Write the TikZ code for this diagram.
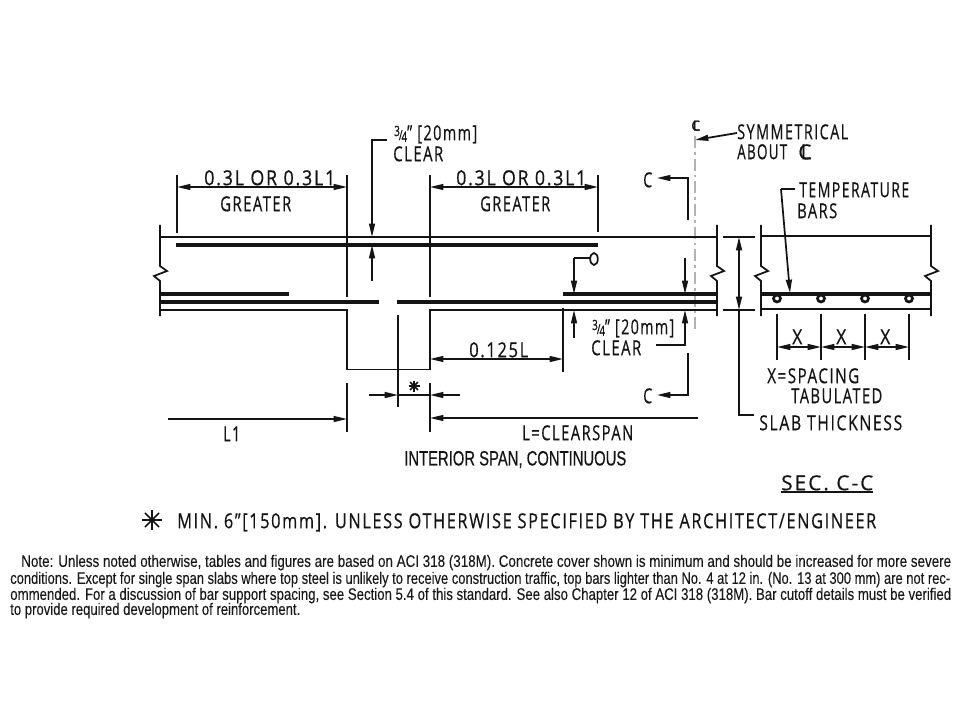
\documentclass[tikz,border=0pt]{standalone}
\usepackage{graphicx}
\usepackage{fontspec}
\usetikzlibrary{arrows.meta,calc}
\setmainfont{Liberation Sans}
\newfontfamily\cad[LetterSpace=10,FakeBold=0.6]{Open Sans}
\newfontfamily\ttl[FakeBold=0.4]{Liberation Sans}
\newfontfamily\nte[FakeBold=0.12]{Liberation Sans}
\newlength\pxu \pxu=0.75pt
\definecolor{ink}{HTML}{141414}
\tikzset{
  ln/.style={draw=ink,line width=1.3pt},
  bar/.style={draw=ink,line width=2.5pt},
  ldr/.style={ln,-{Triangle[length=10pt,width=4.4pt]}},
  dim/.style={ln,{Triangle[length=10pt,width=4.4pt]}-{Triangle[length=10pt,width=4.4pt]}},
  cadtxt/.style={anchor=base west,inner sep=0pt,yshift=-5.4pt,text=ink,font=\cad\fontsize{15.5}{17}\selectfont},
  headtxt/.style={anchor=base west,inner sep=0pt,yshift=-5.6pt,text=ink,font=\ttl\fontsize{15.5}{17}\selectfont},
  notetxt/.style={anchor=base west,inner sep=0pt,yshift=-4.4pt,text=black!90,font=\nte\fontsize{12.5}{14}\selectfont},
  cline/.style={draw=black!30,line width=1pt,dash pattern=on 9pt off 3pt on 2pt off 3pt},
}
\newcommand{\lab}[6][cadtxt]{\node[#1] (#2) at (#3,#4) {\resizebox{#5\pxu}{\height}{#6}};}
\newcommand{\threefour}{{\fontsize{10.5}{11}\selectfont\raisebox{3.2pt}{3}\kern-1pt/\kern-1pt\raisebox{-1.2pt}{4}}}
\newcommand{\brk}[1]{\draw[ln] (#1,225) -- (#1,266) -- ++(7,5) -- ++(-13,5) -- ++(6,5) -- (#1,316);}
\newcommand{\starmark}[3]{\foreach \a in {0,45,90,135}{\draw[draw=ink,line width=1.3pt] ($(#1,#2)+(\a:#3 and -#3)$) -- ($(#1,#2)+(\a+180:#3 and -#3)$);}}
\begin{document}
\begin{tikzpicture}[x=0.75pt,y=-0.75pt]
\fill[white] (0,0) rectangle (960,720);
\useasboundingbox (0,0) rectangle (960,720);
% centre line
\draw[cline] (695,136) -- (695,332);
% slab and column outline
\brk{160}
\brk{717}
\draw[ln] (160,237) -- (717,237);
\draw[ln] (160,310) -- (347,310) -- (347,369.5) -- (430,369.5) -- (430,310) -- (717,310);
% bars
\draw[bar] (176,245) -- (598,245);
\draw[bar] (160,294) -- (289,294);
\draw[bar] (160,302) -- (379,302);
\draw[bar] (397,302) -- (717,302);
\draw[bar] (563,294) -- (717,294);
% extension lines
\draw[ln] (177,175) -- (177,233);
\draw[ln] (347,175) -- (347,297);
\draw[ln] (430,175) -- (430,297);
\draw[ln] (598,175) -- (598,232);
\draw[ln] (398,315) -- (398,407);
\draw[ln] (563,308) -- (563,372);
\draw[ln] (347,383) -- (347,432);
\draw[ln] (430,383) -- (430,432);
% dimensions
\draw[dim] (177,187) -- (347,187);
\draw[dim] (430,187) -- (598,187);
\draw[dim] (430,359) -- (563,359);
\draw[ldr] (369,395) -- (398,395);
\draw[ldr] (460,395) -- (430,395);
\draw[ln] (398,395) -- (430,395);
\draw[ldr] (168,419) -- (347,419);
\draw[ldr] (698,418) -- (430,418);
% cover leaders
\draw[ldr] (387,140) -- (372,140) -- (372,237);
\draw[ldr] (372,281) -- (372,245);
\draw[ln] (590,258) -- (574,258);
\draw[ldr] (574,258) -- (574,294);
\draw[ldr] (574,338) -- (574,310);
\draw[ldr] (685,258) -- (685,294);
\draw[ldr] (656,345) -- (685,345) -- (685,310);
\draw[ln] (594,259) ellipse (3.8 and 6);
% section marks
\draw[ldr] (688,220) -- (688,178) -- (657,178);
\draw[ldr] (688,353) -- (688,395) -- (657,395);
\draw[ldr] (737,133) -- (695,140);
% slab thickness
\draw[ln] (723,237) -- (755,237);
\draw[ln] (723,310) -- (755,310);
\draw[dim] (739,237) -- (739,310);
\draw[ln] (739,310) -- (739,415) -- (754,415);
% section C-C
\brk{761}
\brk{931}
\draw[ln] (762,236) -- (931,236);
\draw[bar] (761,294) -- (931,294);
\draw[ln] (762,309) -- (931,309);
\foreach \x in {777,821,865,909}{
  \draw[draw=ink,line width=2pt] (\x,298.5) circle (3.5);
  \draw[ln] (\x,314) -- (\x,360);
}
\draw[dim] (777,347) -- (821,347);
\draw[dim] (821,347) -- (865,347);
\draw[dim] (865,347) -- (909,347);
\draw[ln] (795,189) -- (781,189);
\draw[ldr] (781,189) -- (790,293);
% texts
\lab{dimA}{204}{178}{131}{0.3L OR 0.3L1}
\lab{grA}{220}{204}{71}{GREATER}
\lab{dimB}{456}{178}{130}{0.3L OR 0.3L1}
\lab{grB}{480}{204}{70}{GREATER}
\lab{covA}{394}{133}{83}{\threefour” [20mm]}
\lab{clrA}{393}{154}{50}{CLEAR}
\lab{dimC}{469}{350}{59}{0.125L}
\lab{covB}{592}{327}{82}{\threefour” [20mm]}
\lab{clrB}{591}{348}{50}{CLEAR}
\lab{clsp}{522}{433}{111}{L=CLEARSPAN}
\lab{lone}{223}{434}{17}{L1}
\lab[headtxt]{title}{404}{458}{222}{INTERIOR SPAN, CONTINUOUS}
\lab{secA}{643}{180}{9}{C}
\lab{secB}{643}{396}{9}{C}
\lab{sym}{737}{132}{111}{SYMMETRICAL}
\lab{abt}{737}{152}{50}{ABOUT}
\node[cadtxt] (clsym) at (798,152) {C\llap{L}};
\node[cadtxt,yshift=1.2pt,font=\cad\fontsize{10.5}{11}\selectfont] (cltop) at (691,125) {C\llap{L}};
\lab{tmp}{799}{190}{110}{TEMPERATURE}
\lab{brs}{797}{211}{40}{BARS}
\lab{xa}{792}{337}{10}{X}
\lab{xb}{836}{337}{10}{X}
\lab{xc}{880}{337}{10}{X}
\lab{spc}{767}{376}{92}{X=SPACING}
\lab{tab}{791}{396}{91}{TABULATED}
\lab{slab}{759}{423}{143}{SLAB THICKNESS}
\lab{sec}{781}{483}{92}{SEC. C-C}
\draw[ln] (781,492) -- (873,492);
\starmark{414}{386}{5.5}
\starmark{152}{520}{10}
\lab{minn}{177}{521}{699}{MIN. 6”[150mm]. UNLESS OTHERWISE SPECIFIED BY THE ARCHITECT/ENGINEER}
\lab[notetxt]{noteA}{21}{561}{930}{Note: Unless noted otherwise, tables and figures are based on ACI 318 (318M). Concrete cover shown is minimum and should be increased for more severe}
\lab[notetxt]{noteB}{10}{578}{940}{conditions. Except for single span slabs where top steel is unlikely to receive construction traffic, top bars lighter than No. 4 at 12 in. (No. 13 at 300 mm) are not rec-}
\lab[notetxt]{noteC}{10}{594}{941}{ommended. For a discussion of bar support spacing, see Section 5.4 of this standard. See also Chapter 12 of ACI 318 (318M). Bar cutoff details must be verified}
\lab[notetxt]{noteD}{10}{609}{290}{to provide required development of reinforcement.}
\end{tikzpicture}
\end{document}
